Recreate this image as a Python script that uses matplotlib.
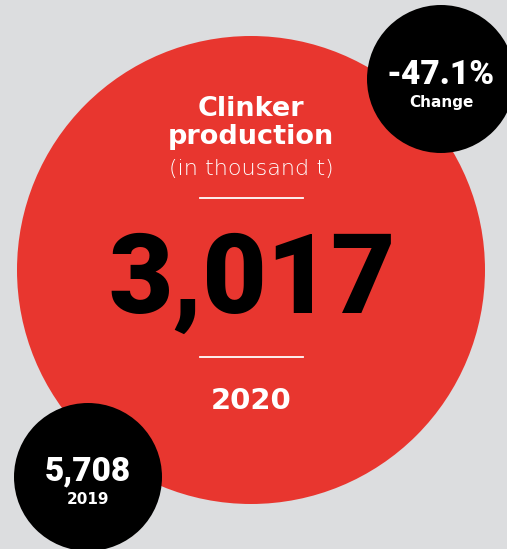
import matplotlib
matplotlib.use("Agg")
import matplotlib.pyplot as plt
from matplotlib.patches import Circle

# figures
YEARS = [2019, 2020]
CLINKER_KT = [5708, 3017]          # clinker production, thousand t
TITLE = ["Clinker", "production"]
UNIT = "(in thousand t)"
CHANGE_LABEL = "Change"

BG = "#dcdddf"
RED = "#e8362f"
HEAD = "DejaVu Sans"
NUM = "Roboto"

change = (CLINKER_KT[1] - CLINKER_KT[0]) / CLINKER_KT[0] * 100

W, H = 507, 549
fig = plt.figure(figsize=(W / 100, H / 100), dpi=100, facecolor=BG)
ax = fig.add_axes([0, 0, 1, 1])
ax.set_xlim(0, W)
ax.set_ylim(H, 0)
ax.set_aspect("equal")
ax.axis("off")

# circles: main year, change badge, previous year badge
ax.add_patch(Circle((251, 270), 234, fc=RED, ec="none", zorder=1))
ax.add_patch(Circle((441, 79), 74, fc="black", ec="none", zorder=2))
ax.add_patch(Circle((88, 477), 74, fc="black", ec="none", zorder=2))

# headline block
ax.text(251, 109, TITLE[0], ha="center", va="center", color="white",
        fontsize=19.5, fontweight="bold", family=HEAD, zorder=3)
ax.text(251, 137, TITLE[1], ha="center", va="center", color="white",
        fontsize=19.5, fontweight="bold", family=HEAD, zorder=3)
ax.text(251, 169, UNIT, ha="center", va="center", color="white",
        fontsize=16, fontweight="light", family=HEAD, zorder=3)
ax.plot([200, 303], [198, 198], color="white", lw=1.3, zorder=3)
ax.text(252, 283, f"{CLINKER_KT[1]:,}", ha="center", va="center", color="black",
        fontsize=80, fontweight="black", family=NUM, zorder=3)
ax.plot([200, 303], [357, 357], color="white", lw=1.3, zorder=3)
ax.text(251, 401, str(YEARS[1]), ha="center", va="center", color="white",
        fontsize=21, fontweight="bold", family=HEAD, zorder=3)

# change badge
ax.text(441, 75, f"{change:.1f}%", ha="center", va="center", color="white",
        fontsize=24, fontweight="black", family=NUM, zorder=3)
ax.text(441, 103, CHANGE_LABEL, ha="center", va="center", color="white",
        fontsize=11, fontweight="bold", family=HEAD, zorder=3)

# previous year badge
ax.text(88, 471, f"{CLINKER_KT[0]:,}", ha="center", va="center", color="white",
        fontsize=24, fontweight="black", family=NUM, zorder=3)
ax.text(88, 500, str(YEARS[0]), ha="center", va="center", color="white",
        fontsize=11, fontweight="bold", family=HEAD, zorder=3)

fig.savefig("out.png", dpi=100, facecolor=BG)
